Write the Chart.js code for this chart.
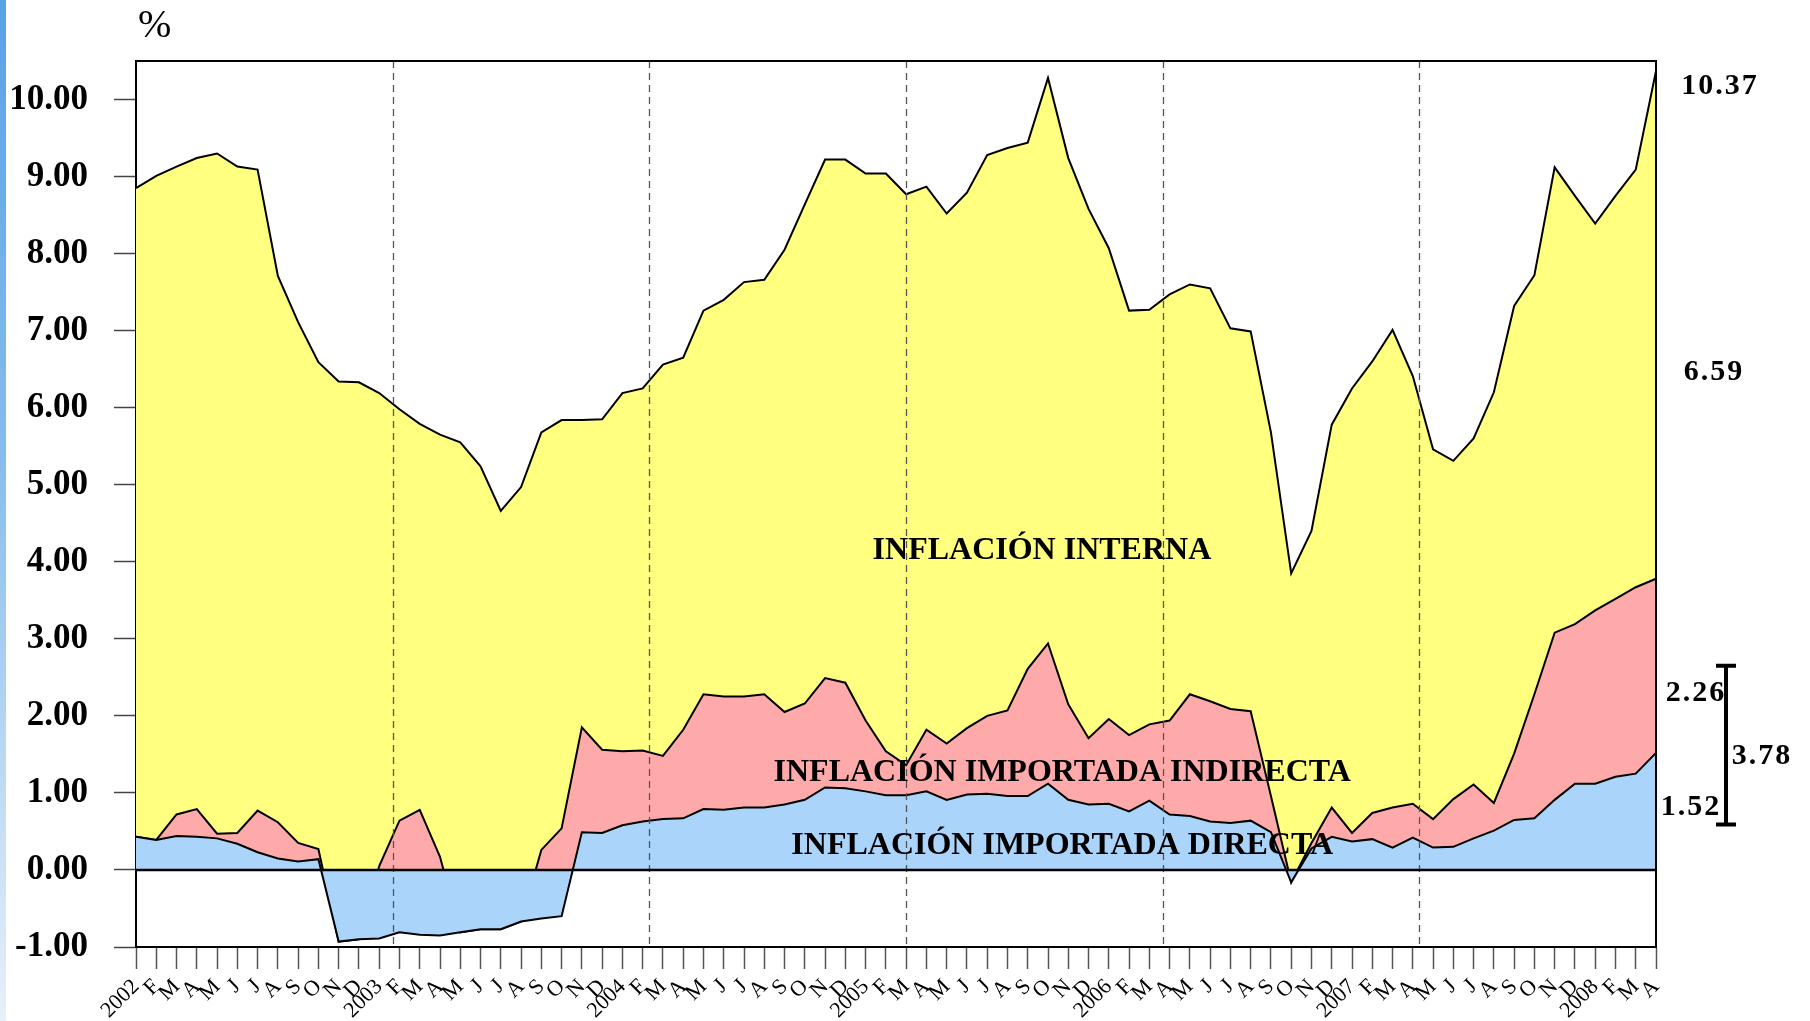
<!DOCTYPE html>
<html>
<head>
<meta charset="utf-8">
<title>Inflación importada</title>
<script src="https://cdn.jsdelivr.net/npm/chart.js@4.4.1/dist/chart.umd.min.js"></script>
<style>
  html, body { margin: 0; padding: 0; background: #fff; }
  #wrap { position: relative; width: 1810px; height: 1021px; }
  #edge { position: absolute; left: 0; top: 0; width: 6px; height: 1021px;
          background: linear-gradient(#58a2e6, #86bdee 45%, #e8f0f9); }
</style>
</head>
<body>
<div id="wrap">
  <div id="edge"></div>
  <canvas id="inflation-chart" width="1810" height="1021"></canvas>
</div>
<script>
// month labels, Jan 2002 - Apr 2008
const months = [
  '2002','F','M','A','M','J','J','A','S','O','N','D',
  '2003','F','M','A','M','J','J','A','S','O','N','D',
  '2004','F','M','A','M','J','J','A','S','O','N','D',
  '2005','F','M','A','M','J','J','A','S','O','N','D',
  '2006','F','M','A','M','J','J','A','S','O','N','D',
  '2007','F','M','A','M','J','J','A','S','O','N','D',
  '2008','F','M','A'
]

// inflación importada directa
const directa = [
  0.43, 0.39, 0.44, 0.43, 0.41, 0.34, 0.23, 0.15, 0.11, 0.14,
  -0.93, -0.90, -0.89, -0.81, -0.84, -0.85, -0.81, -0.77, -0.77, -0.67,
  -0.63, -0.60, 0.49, 0.48, 0.58, 0.63, 0.66, 0.67, 0.79, 0.78,
  0.81, 0.81, 0.85, 0.91, 1.07, 1.06, 1.02, 0.97, 0.97, 1.02,
  0.91, 0.98, 0.99, 0.96, 0.96, 1.12, 0.91, 0.85, 0.86, 0.76,
  0.90, 0.72, 0.70, 0.63, 0.61, 0.64, 0.49, -0.16, 0.28, 0.43,
  0.37, 0.40, 0.29, 0.42, 0.29, 0.30, 0.41, 0.51, 0.65, 0.67,
  0.91, 1.12, 1.12, 1.21, 1.25, 1.52
]

// inflación importada indirecta
const indirecta = [
  0, 0, 0.28, 0.36, 0.06, 0.14, 0.54, 0.47, 0.24, 0.13,
  0, 0, 0.05, 0.64, 0.78, 0.17, 0, 0, 0, 0,
  0.26, 0.54, 1.36, 1.08, 0.96, 0.92, 0.82, 1.15, 1.49, 1.47,
  1.44, 1.47, 1.20, 1.25, 1.42, 1.37, 0.92, 0.57, 0.39, 0.80,
  0.73, 0.86, 1.01, 1.11, 1.65, 1.82, 1.24, 0.86, 1.10, 0.99,
  0.99, 1.22, 1.58, 1.56, 1.48, 1.42, 0.47, 0, 0.07, 0.38,
  0.11, 0.34, 0.52, 0.44, 0.37, 0.62, 0.70, 0.36, 0.86, 1.61,
  2.17, 2.07, 2.25, 2.31, 2.42, 2.26
]

// inflación interna
const interna = [
  8.42, 8.62, 8.41, 8.45, 8.83, 8.65, 8.32, 7.09, 6.76, 6.32,
  6.34, 6.33, 6.14, 5.34, 5.01, 5.48, 5.55, 5.24, 4.66, 4.97,
  5.42, 5.30, 3.99, 4.29, 4.65, 4.70, 5.08, 4.83, 4.98, 5.15,
  5.38, 5.38, 6.00, 6.48, 6.73, 6.79, 7.10, 7.50, 7.41, 7.05,
  6.88, 6.95, 7.28, 7.30, 6.83, 7.34, 7.09, 6.87, 6.11, 5.51,
  5.38, 5.53, 5.32, 5.36, 4.94, 4.93, 4.72, 3.85, 4.05, 4.97,
  5.77, 5.86, 6.20, 5.55, 4.80, 4.39, 4.49, 5.33, 5.81, 5.44,
  6.04, 5.56, 5.02, 5.23, 5.42, 6.59
]

// dashed separators, in month-index units
const yearMarks = [12.67, 25.33, 38, 50.67, 63.33]

const yTicks = [-1, 0, 1, 2, 3, 4, 5, 6, 7, 8, 9, 10]

const FONT = '"Liberation Serif", "DejaVu Serif", serif'

const last = months.length - 1
const lastDirecta = directa[last]
const lastIndirecta = indirecta[last]
const lastInterna = interna[last]

const overlay = {
  id: 'overlay',
  afterDatasetsDraw(chart) {
    const { ctx, chartArea: area, scales: { x, y } } = chart
    ctx.save()

    // dashed separators
    ctx.strokeStyle = '#555'
    ctx.lineWidth = 1.3
    ctx.setLineDash([7, 5])
    yearMarks.forEach(m => {
      const px = Math.round(x.getPixelForValue(m)) + 0.5
      ctx.beginPath()
      ctx.moveTo(px, area.top)
      ctx.lineTo(px, area.bottom)
      ctx.stroke()
    })
    ctx.setLineDash([])

    // zero line
    ctx.strokeStyle = '#000'
    ctx.lineWidth = 2.5
    const zero = y.getPixelForValue(0)
    ctx.beginPath()
    ctx.moveTo(area.left, zero)
    ctx.lineTo(area.right, zero)
    ctx.stroke()

    // frame top + right
    ctx.lineWidth = 2
    ctx.beginPath()
    ctx.moveTo(area.left, area.top)
    ctx.lineTo(area.right, area.top)
    ctx.lineTo(area.right, area.bottom)
    ctx.stroke()

    // series names
    ctx.fillStyle = '#000'
    ctx.textAlign = 'center'
    ctx.textBaseline = 'middle'
    ctx.font = 'bold 32px ' + FONT
    ctx.fillText('INFLACIÓN INTERNA', x.getPixelForValue(44.7), y.getPixelForValue(4.14))
    ctx.fillText('INFLACIÓN IMPORTADA INDIRECTA', x.getPixelForValue(45.7), y.getPixelForValue(1.26))
    ctx.fillText('INFLACIÓN IMPORTADA DIRECTA', x.getPixelForValue(45.7), y.getPixelForValue(0.31))

    // values at the end
    ctx.font = 'bold 30px ' + FONT
    ctx.letterSpacing = '2px'
    const r = area.right
    ctx.fillText((lastDirecta + lastIndirecta + lastInterna).toFixed(2), r + 64, y.getPixelForValue(10.17))
    ctx.fillText(lastInterna.toFixed(2), r + 58, y.getPixelForValue(6.46))
    ctx.fillText(lastIndirecta.toFixed(2), r + 40, y.getPixelForValue(2.29))
    ctx.fillText((lastDirecta + lastIndirecta).toFixed(2), r + 106, y.getPixelForValue(1.48))
    ctx.fillText(lastDirecta.toFixed(2), r + 35, y.getPixelForValue(0.81))
    ctx.letterSpacing = '0px'

    // bracket
    const bx = r + 70
    const bTop = y.getPixelForValue(2.65)
    const bBot = y.getPixelForValue(0.59)
    ctx.lineWidth = 4
    ctx.beginPath()
    ctx.moveTo(bx, bTop)
    ctx.lineTo(bx, bBot)
    ctx.moveTo(bx - 10, bTop)
    ctx.lineTo(bx + 10, bTop)
    ctx.moveTo(bx - 10, bBot)
    ctx.lineTo(bx + 10, bBot)
    ctx.stroke()

    // unit
    ctx.textAlign = 'left'
    ctx.textBaseline = 'alphabetic'
    ctx.font = '40px ' + FONT
    ctx.fillText('%', area.left + 2, 37)

    ctx.restore()
  }
}

const canvas = document.querySelector('#inflation-chart')

new Chart(canvas.getContext('2d'), {
  type: 'line',
  data: {
    labels: months,
    datasets: [
      {
        label: 'Inflación importada directa',
        data: directa,
        backgroundColor: '#aad4fa',
        borderColor: '#000',
        fill: 'origin'
      },
      {
        label: 'Inflación importada indirecta',
        data: indirecta,
        backgroundColor: '#ffaaaa',
        borderColor: '#000',
        fill: 'origin'
      },
      {
        label: 'Inflación interna',
        data: interna,
        backgroundColor: '#ffff80',
        borderColor: '#000',
        fill: 'origin'
      }
    ]
  },
  options: {
    responsive: false,
    animation: false,
    elements: {
      line: { borderWidth: 2, tension: 0 },
      point: { radius: 0, hoverRadius: 0 }
    },
    layout: { padding: { left: 0, top: 61, right: 154, bottom: 0 } },
    plugins: {
      legend: { display: false },
      tooltip: { enabled: false }
    },
    scales: {
      x: {
        offset: false,
        afterFit(scale) { scale.height = 74 },
        grid: { drawOnChartArea: false, tickLength: 22, tickColor: '#555', tickWidth: 1.5 },
        border: { color: '#000', width: 2 },
        ticks: {
          autoSkip: false,
          maxRotation: 45,
          minRotation: 45,
          padding: 5,
          color: '#000',
          font: { family: FONT, size: 22 }
        }
      },
      y: {
        stacked: true,
        min: -1,
        max: 10.5,
        afterFit(scale) { scale.width = 136 },
        afterBuildTicks(scale) { scale.ticks = yTicks.map(v => ({ value: v })) },
        grid: { drawOnChartArea: false, tickLength: 22, tickColor: '#444', tickWidth: 1.5 },
        border: { color: '#000', width: 2 },
        ticks: {
          padding: 26,
          color: '#000',
          font: { family: FONT, size: 35, weight: 'bold' },
          callback: value => value.toFixed(2)
        }
      }
    }
  },
  plugins: [overlay]
})
</script>
</body>
</html>
